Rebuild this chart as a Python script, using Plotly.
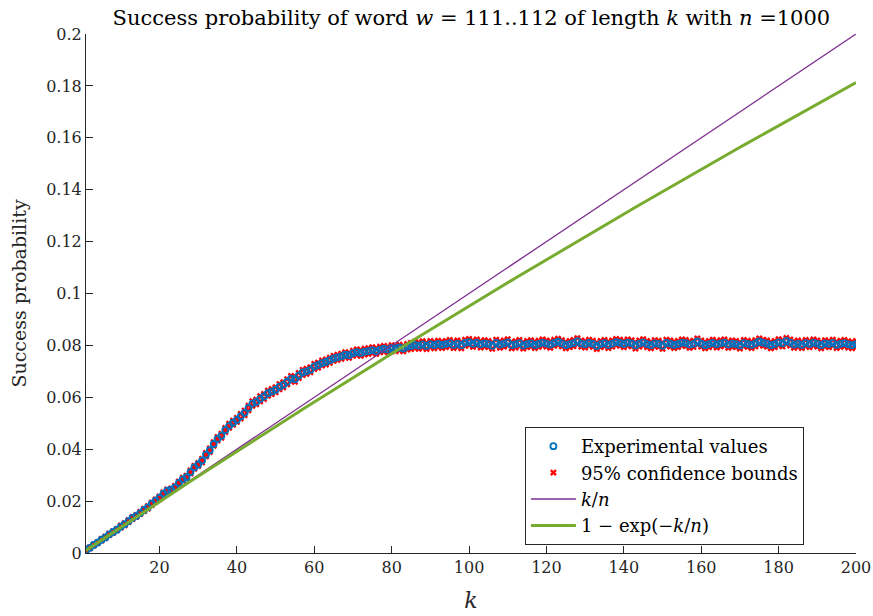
import plotly.graph_objects as go
import math

# ---------------- data (values in units of 1e-3) ----------------
k_values = list(range(1, 201))

experimental_pm = [
    1.0, 2.0, 3.1, 4.0, 5.1, 6.0, 7.2, 8.1, 9.0, 10.2,
    11.1, 12.3, 13.5, 14.3, 15.4, 16.6, 17.6, 19.0, 20.2, 21.3,
    22.9, 24.0, 24.4, 25.3, 27.0, 28.4, 29.2, 31.2, 33.0, 34.1,
    35.6, 37.9, 39.6, 42.0, 44.0, 45.2, 47.4, 49.0, 50.2, 51.3,
    52.7, 54.0, 55.9, 57.6, 58.2, 59.4, 60.3, 61.6, 62.2, 62.9,
    64.1, 64.8, 66.0, 67.2, 67.0, 68.4, 69.6, 70.0, 70.6, 71.9,
    72.4, 73.2, 73.6, 74.3, 75.0, 75.4, 75.8, 76.4, 76.2, 77.0,
    77.4, 77.1, 77.6, 77.8, 78.2, 77.8, 78.4, 78.7, 78.4, 79.0,
    78.8, 79.2, 78.8, 79.5, 79.8, 80.2, 79.9, 80.4, 79.8, 80.5,
    80.1, 80.6, 80.2, 80.5, 80.9, 80.2, 80.7, 80.1, 81.0, 81.3,
    80.6, 81.1, 80.4, 80.8, 80.5, 79.9, 81.0, 80.3, 80.7, 81.2,
    80.1, 80.4, 80.9, 80.0, 80.5, 80.8, 80.2, 80.6, 81.1, 80.7,
    80.3, 81.0, 81.4, 80.8, 80.1, 80.5, 80.9, 81.6, 80.7, 80.4,
    81.0, 80.6, 79.8, 80.5, 80.9, 80.2, 80.7, 81.3, 81.0, 80.5,
    81.1, 80.8, 80.0, 80.7, 81.2, 80.5, 80.1, 80.8, 80.6, 79.9,
    81.0, 80.7, 80.2, 80.5, 81.1, 80.9, 80.3, 80.6, 81.5, 80.7,
    80.1, 80.5, 81.0, 80.4, 80.8, 81.1, 80.3, 80.7, 80.5, 80.0,
    80.9, 80.6, 80.2, 80.8, 81.5, 81.0, 80.7, 80.1, 80.5, 81.2,
    80.8, 81.7, 81.1, 80.3, 80.7, 80.2, 80.9, 80.5, 81.1, 80.7,
    80.1, 80.8, 80.5, 81.0, 80.2, 80.6, 80.9, 80.4, 80.1, 80.5,
]

lower_pm = [
    0.9, 1.8, 2.9, 3.8, 4.8, 5.7, 6.9, 7.8, 8.7, 9.8,
    10.7, 11.9, 13.1, 13.9, 15.0, 16.1, 17.1, 18.5, 19.7, 20.8,
    22.4, 23.5, 23.9, 24.7, 26.4, 27.8, 28.6, 30.6, 32.4, 33.5,
    34.9, 37.2, 38.9, 41.3, 43.3, 44.4, 46.6, 48.2, 49.4, 50.5,
    51.8, 53.1, 55.0, 56.7, 57.3, 58.4, 59.3, 60.6, 61.2, 61.9,
    63.1, 63.8, 65.0, 66.2, 66.0, 67.4, 68.6, 69.0, 69.6, 70.9,
    71.4, 72.2, 72.6, 73.3, 74.0, 74.4, 74.8, 75.4, 75.2, 76.0,
    76.3, 76.0, 76.5, 76.7, 77.1, 76.7, 77.3, 77.6, 77.3, 77.9,
    77.7, 78.1, 77.7, 78.4, 78.6, 79.0, 78.7, 79.2, 78.6, 79.3,
    78.9, 79.4, 79.0, 79.3, 79.7, 79.0, 79.5, 78.9, 79.8, 80.1,
    79.4, 79.9, 79.2, 79.6, 79.3, 78.7, 79.8, 79.1, 79.5, 80.0,
    78.9, 79.2, 79.7, 78.8, 79.3, 79.6, 79.0, 79.4, 79.9, 79.5,
    79.1, 79.8, 80.2, 79.6, 78.9, 79.3, 79.7, 80.4, 79.5, 79.2,
    79.8, 79.4, 78.6, 79.3, 79.7, 79.0, 79.5, 80.1, 79.8, 79.3,
    79.9, 79.6, 78.8, 79.5, 80.0, 79.3, 78.9, 79.6, 79.4, 78.7,
    79.8, 79.5, 79.0, 79.3, 79.9, 79.7, 79.1, 79.4, 80.3, 79.5,
    78.9, 79.3, 79.8, 79.2, 79.6, 79.9, 79.1, 79.5, 79.3, 78.8,
    79.7, 79.4, 79.0, 79.6, 80.3, 79.8, 79.5, 78.9, 79.3, 80.0,
    79.6, 80.5, 79.9, 79.1, 79.5, 79.0, 79.7, 79.3, 79.9, 79.5,
    78.9, 79.6, 79.3, 79.8, 79.0, 79.4, 79.7, 79.2, 78.9, 79.3,
]

upper_pm = [
    1.1, 2.2, 3.3, 4.2, 5.4, 6.3, 7.5, 8.4, 9.3, 10.6,
    11.5, 12.7, 13.9, 14.7, 15.8, 17.1, 18.1, 19.5, 20.7, 21.8,
    23.4, 24.5, 24.9, 25.9, 27.6, 29.0, 29.8, 31.8, 33.6, 34.7,
    36.3, 38.6, 40.3, 42.7, 44.7, 46.0, 48.2, 49.8, 51.0, 52.1,
    53.6, 54.9, 56.8, 58.5, 59.1, 60.4, 61.3, 62.6, 63.2, 63.9,
    65.1, 65.8, 67.0, 68.2, 68.0, 69.4, 70.6, 71.0, 71.6, 72.9,
    73.4, 74.2, 74.6, 75.3, 76.0, 76.4, 76.8, 77.4, 77.2, 78.0,
    78.5, 78.2, 78.7, 78.9, 79.3, 78.9, 79.5, 79.8, 79.5, 80.1,
    79.9, 80.3, 79.9, 80.6, 81.0, 81.4, 81.1, 81.6, 81.0, 81.7,
    81.3, 81.8, 81.4, 81.7, 82.1, 81.4, 81.9, 81.3, 82.2, 82.5,
    81.8, 82.3, 81.6, 82.0, 81.7, 81.1, 82.2, 81.5, 81.9, 82.4,
    81.3, 81.6, 82.1, 81.2, 81.7, 82.0, 81.4, 81.8, 82.3, 81.9,
    81.5, 82.2, 82.6, 82.0, 81.3, 81.7, 82.1, 82.8, 81.9, 81.6,
    82.2, 81.8, 81.0, 81.7, 82.1, 81.4, 81.9, 82.5, 82.2, 81.7,
    82.3, 82.0, 81.2, 81.9, 82.4, 81.7, 81.3, 82.0, 81.8, 81.1,
    82.2, 81.9, 81.4, 81.7, 82.3, 82.1, 81.5, 81.8, 82.7, 81.9,
    81.3, 81.7, 82.2, 81.6, 82.0, 82.3, 81.5, 81.9, 81.7, 81.2,
    82.1, 81.8, 81.4, 82.0, 82.7, 82.2, 81.9, 81.3, 81.7, 82.4,
    82.0, 82.9, 82.3, 81.5, 81.9, 81.4, 82.1, 81.7, 82.3, 81.9,
    81.3, 82.0, 81.7, 82.2, 81.4, 81.8, 82.1, 81.6, 81.3, 81.7,
]

n_length = 1000
x_ticks = [20, 40, 60, 80, 100, 120, 140, 160, 180, 200]
y_ticks = [0, 0.02, 0.04, 0.06, 0.08, 0.1, 0.12, 0.14, 0.16, 0.18, 0.2]
y_tick_text = ["0", "0.02", "0.04", "0.06", "0.08", "0.1", "0.12", "0.14", "0.16", "0.18", "0.2"]

experimental = [v / 1000 for v in experimental_pm]
lower = [v / 1000 for v in lower_pm]
upper = [v / 1000 for v in upper_pm]
k_over_n = [k / n_length for k in k_values]
one_minus_exp = [1 - math.exp(-k / n_length) for k in k_values]

# ---------------- styling ----------------
FONT = "DejaVu Serif, Liberation Serif, serif"
AX = "#262626"
BLUE = "#0072BD"
RED = "#FF0000"
PURPLE = "#7E2F8E"
GREEN = "#77AC30"

fig = go.Figure()

fig.add_trace(go.Scatter(
    x=k_values, y=lower, mode="markers", name="95% confidence bounds",
    marker=dict(symbol="x", size=6, color=RED, line=dict(width=0)),
    legendrank=2, showlegend=True,
))
fig.add_trace(go.Scatter(
    x=k_values, y=upper, mode="markers", name="95% confidence bounds",
    marker=dict(symbol="x", size=6, color=RED, line=dict(width=0)),
    showlegend=False,
))
fig.add_trace(go.Scatter(
    x=k_values, y=experimental, mode="markers", name="Experimental values",
    marker=dict(symbol="circle-open", size=6, color=BLUE, line=dict(width=1.8, color=BLUE)),
    legendrank=1,
))
fig.add_trace(go.Scatter(
    x=k_values, y=k_over_n, mode="lines", name="<i>k</i>/<i>n</i>",
    line=dict(color=PURPLE, width=1.3), legendrank=3,
))
fig.add_trace(go.Scatter(
    x=k_values, y=one_minus_exp, mode="lines", name="1 − exp(−<i>k</i>/<i>n</i>)",
    line=dict(color=GREEN, width=3), legendrank=4,
))

fig.update_layout(
    width=873, height=616,
    margin=dict(l=86, r=17, t=34, b=63, autoexpand=False),
    paper_bgcolor="white", plot_bgcolor="white",
    font=dict(family=FONT, size=16, color=AX),
    title=dict(
        text="Success probability of word <i>w</i> = 111..112 of length <i>k</i> with <i>n</i> =1000",
        x=0.54, xanchor="center", y=0.972, yanchor="middle",
        font=dict(family=FONT, size=21, color="black"),
    ),
    showlegend=True,
    legend=dict(
        x=0.570, y=0.0154, xanchor="left", yanchor="bottom",
        bgcolor="white", bordercolor=AX, borderwidth=1,
        font=dict(family=FONT, size=18, color="black"),
        tracegroupgap=0, itemwidth=45,
    ),
)

fig.update_xaxes(
    range=[1, 200], tickvals=x_ticks, ticktext=[str(t) for t in x_ticks],
    showgrid=False, zeroline=False, showline=True, linecolor=AX, linewidth=1,
    ticks="inside", ticklen=7, tickcolor=AX, mirror=False, automargin=False,
    tickfont=dict(family=FONT, size=16, color=AX),
    title=dict(text="<i>k</i>", font=dict(family=FONT, size=22, color=AX), standoff=16),
)
fig.update_yaxes(
    range=[0, 0.2], tickvals=y_ticks, ticktext=y_tick_text,
    showgrid=False, zeroline=False, showline=True, linecolor=AX, linewidth=1,
    ticks="inside", ticklen=7, tickcolor=AX, mirror=False, automargin=False,
    tickfont=dict(family=FONT, size=16, color=AX),
    title=dict(text="Success probability", font=dict(family=FONT, size=19, color=AX), standoff=14),
)

fig.write_html("out.html")
